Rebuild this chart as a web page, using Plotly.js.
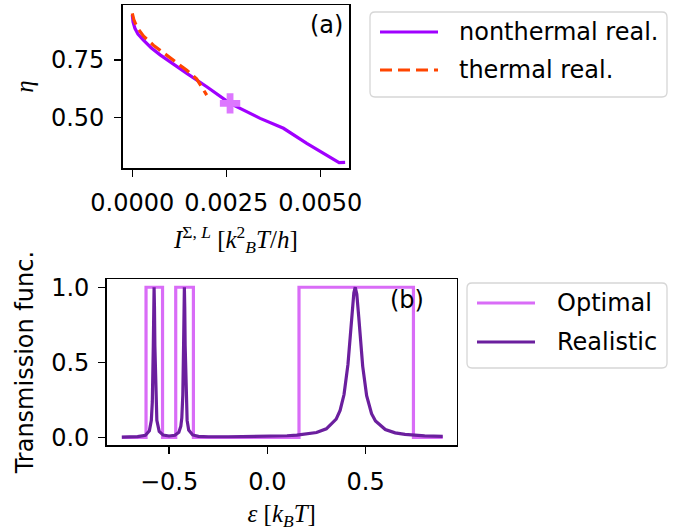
<!DOCTYPE html>
<html>
<head>
<meta charset="utf-8">
<script src="https://cdn.plot.ly/plotly-3.0.1.min.js"></script>
<style>html,body{margin:0;padding:0;background:#fff;} #plot{width:682px;height:531px;}</style>
</head>
<body>
<div id="plot"></div>
<script>
// ---- panel (a): efficiency vs current ----
const I_nonthermal = [0.0, 0.00002, 0.00007, 0.00015, 0.00029, 0.0005, 0.00074, 0.0011, 0.00145, 0.00198, 0.0026, 0.0034, 0.00402, 0.00464, 0.00544, 0.0055, 0.00566];
const eta_nonthermal = [0.945, 0.915, 0.887, 0.862, 0.837, 0.803, 0.772, 0.730, 0.692, 0.634, 0.562, 0.497, 0.454, 0.389, 0.309, 0.305, 0.306];
const I_thermal = [0.0, 0.00004, 0.00012, 0.00030, 0.00056, 0.00088, 0.00118, 0.00145, 0.00171, 0.00198];
const eta_thermal = [0.952, 0.925, 0.893, 0.853, 0.814, 0.775, 0.740, 0.705, 0.668, 0.598];
const I_marker = [0.0026];
const eta_marker = [0.562];

// ---- panel (b): transmission functions ----
const eps_opt = [-0.74, -0.617, -0.617, -0.533, -0.533, -0.466, -0.466, -0.376, -0.376, 0.161, 0.161, 0.743, 0.743, 0.892];
const T_opt   = [0, 0, 1, 1, 0, 0, 1, 1, 0, 0, 1, 1, 0, 0];
const eps_real = [-0.74, -0.66, -0.62, -0.60, -0.59, -0.585, -0.58, -0.578, -0.576, -0.574, -0.572, -0.567, -0.562, -0.55, -0.53, -0.50, -0.47, -0.45, -0.44, -0.435, -0.43, -0.426, -0.424, -0.422, -0.420, -0.418, -0.414, -0.408, -0.40, -0.38, -0.35, -0.30, -0.2, -0.1, 0.0, 0.1, 0.15, 0.2, 0.25, 0.3, 0.35, 0.37, 0.39, 0.41, 0.42, 0.43, 0.44, 0.447, 0.455, 0.465, 0.475, 0.485, 0.505, 0.53, 0.55, 0.6, 0.65, 0.7, 0.8, 0.892];
const T_real = [0.002, 0.005, 0.014, 0.044, 0.113, 0.236, 0.61, 0.86, 1.0, 0.86, 0.61, 0.236, 0.113, 0.04, 0.015, 0.009, 0.014, 0.034, 0.074, 0.129, 0.28, 0.61, 0.86, 1.0, 0.86, 0.61, 0.28, 0.113, 0.049, 0.016, 0.007, 0.004, 0.004, 0.005, 0.0065, 0.0106, 0.0145, 0.021, 0.032, 0.057, 0.121, 0.179, 0.285, 0.486, 0.64, 0.818, 0.964, 1.0, 0.953, 0.80, 0.623, 0.473, 0.278, 0.158, 0.109, 0.052, 0.030, 0.020, 0.010, 0.0065];

// ---- ticks & labels ----
const xa_tickvals = [0, 0.0025, 0.005];
const xa_ticktext = ["0.0000", "0.0025", "0.0050"];
const ya_tickvals = [0.5, 0.75];
const ya_ticktext = ["0.50", "0.75"];
const xb_tickvals = [-0.5, 0, 0.5];
const xb_ticktext = ["\u22120.5", "0.0", "0.5"];
const yb_tickvals = [0, 0.5, 1];
const yb_ticktext = ["0.0", "0.5", "1.0"];
const legendA = ["nonthermal real.", "thermal real."];
const legendB = ["Optimal", "Realistic"];

const W = 682, H = 531;
const px = v => v / W;
const py = v => 1 - v / H;

const C_nonth = '#a000ff', C_therm = '#ff4500', C_opt = '#d96cf7', C_real = '#6b1f9e';
const DASH = '12px,6px';

const traces = [
  {x: I_nonthermal, y: eta_nonthermal, xaxis: 'x', yaxis: 'y', mode: 'lines', name: legendA[0],
   line: {color: C_nonth, width: 3.2}, showlegend: false},
  {x: I_thermal, y: eta_thermal, xaxis: 'x', yaxis: 'y', mode: 'lines', name: legendA[1],
   line: {color: C_therm, width: 3.2, dash: DASH}, showlegend: false},
  {x: I_marker, y: eta_marker, xaxis: 'x', yaxis: 'y', mode: 'markers', showlegend: false,
   marker: {symbol: 'cross', size: 17, color: '#dd77ff', line: {width: 0}}},
  {x: eps_opt, y: T_opt, xaxis: 'x2', yaxis: 'y2', mode: 'lines', name: legendB[0],
   line: {color: C_opt, width: 3.2}, showlegend: false},
  {x: eps_real, y: T_real, xaxis: 'x2', yaxis: 'y2', mode: 'lines', name: legendB[1],
   line: {color: C_real, width: 3.2}, showlegend: false}
];

const FS = 24;
const tickFont = {family: 'DejaVu Sans', size: FS, color: '#000'};
const axBase = {showgrid: false, zeroline: false, showline: true, linecolor: '#000', linewidth: 1.5,
  mirror: true, ticks: 'outside', ticklen: 7, tickwidth: 1.3, tickcolor: '#000', tickfont: tickFont,
  tickmode: 'array', automargin: false};
const mathFont = {family: 'Liberation Serif', size: 25, color: '#000'};
const textFont = {family: 'DejaVu Sans', size: FS, color: '#000'};

// manual legends (rounded boxes, sample lines, labels)
function roundBox(x0, y0, x1, y1, r) {
  const X = v => px(v), Y = v => py(v);
  return `M ${X(x0 + r)},${Y(y0)} L ${X(x1 - r)},${Y(y0)} Q ${X(x1)},${Y(y0)} ${X(x1)},${Y(y0 + r)} ` +
    `L ${X(x1)},${Y(y1 - r)} Q ${X(x1)},${Y(y1)} ${X(x1 - r)},${Y(y1)} L ${X(x0 + r)},${Y(y1)} ` +
    `Q ${X(x0)},${Y(y1)} ${X(x0)},${Y(y1 - r)} L ${X(x0)},${Y(y0 + r)} Q ${X(x0)},${Y(y0)} ${X(x0 + r)},${Y(y0)} Z`;
}
const legBoxes = [
  {x0: 370, y0: 12, x1: 667, y1: 97, items: [
    {label: legendA[0], color: C_nonth, dash: 'solid', y: 32},
    {label: legendA[1], color: C_therm, dash: DASH, y: 70}], sx0: 380, sx1: 438, tx: 457},
  {x0: 467, y0: 283, x1: 667, y1: 368, items: [
    {label: legendB[0], color: C_opt, dash: 'solid', y: 303},
    {label: legendB[1], color: C_real, dash: 'solid', y: 342}], sx0: 477, sx1: 535, tx: 555}
];
const shapes = [], annotations = [];
legBoxes.forEach(b => {
  shapes.push({type: 'path', xref: 'paper', yref: 'paper', path: roundBox(b.x0, b.y0, b.x1, b.y1, 5),
    fillcolor: 'rgba(255,255,255,0.9)', line: {color: '#d6d6d6', width: 1.3}, layer: 'above'});
  b.items.forEach(it => {
    shapes.push({type: 'line', xref: 'paper', yref: 'paper', x0: px(b.sx0), x1: px(b.sx1), y0: py(it.y), y1: py(it.y),
      line: {color: it.color, width: 3.2, dash: it.dash}, layer: 'above'});
    annotations.push({text: it.label, xref: 'paper', yref: 'paper', x: px(b.tx), y: py(it.y),
      xanchor: 'left', yanchor: 'middle', showarrow: false, font: textFont});
  });
});
annotations.push(
  {text: '(a)', xref: 'paper', yref: 'paper', x: px(345), y: py(25), xanchor: 'right', yanchor: 'middle',
   showarrow: false, font: textFont},
  {text: '(b)', xref: 'paper', yref: 'paper', x: px(426), y: py(300), xanchor: 'right', yanchor: 'middle',
   showarrow: false, font: textFont});

const layout = {
  width: W, height: H, margin: {l: 0, r: 0, t: 0, b: 0},
  paper_bgcolor: '#fff', plot_bgcolor: '#fff', showlegend: false,
  xaxis: Object.assign({}, axBase, {domain: [px(122.7), px(349)], range: [-0.000255, 0.005763], anchor: 'y',
    tickvals: xa_tickvals, ticktext: xa_ticktext, ticklabelstandoff: 6,
    title: {text: '<i>I</i><sup>Σ, <i>L</i></sup> [<i>k</i><sup>2</sup><sub><i>B</i></sub><i>T</i>/<i>h</i>]', font: mathFont, standoff: 14}}),
  yaxis: Object.assign({}, axBase, {domain: [py(168), py(5)], range: [0.282, 0.988], anchor: 'x',
    tickvals: ya_tickvals, ticktext: ya_ticktext, ticklabelstandoff: 5,
    title: {text: '<i>η</i>', font: mathFont, standoff: 10}}),
  xaxis2: Object.assign({}, axBase, {domain: [px(106.7), px(456.7)], range: [-0.817, 0.963], anchor: 'y2',
    tickvals: xb_tickvals, ticktext: xb_ticktext, ticklabelstandoff: 8,
    title: {text: '<i>ε</i> [<i>k</i><sub><i>B</i></sub><i>T</i>]', font: mathFont, standoff: 16}}),
  yaxis2: Object.assign({}, axBase, {domain: [py(445), py(279.3)], range: [-0.051, 1.053], anchor: 'x2',
    tickvals: yb_tickvals, ticktext: yb_ticktext, ticklabelstandoff: 4,
    title: {text: 'Transmission func.', font: textFont, standoff: 11}}),
  shapes: shapes,
  annotations: annotations
};

Plotly.newPlot('plot', traces, layout, {staticPlot: true, displayModeBar: false});
</script>
</body>
</html>
